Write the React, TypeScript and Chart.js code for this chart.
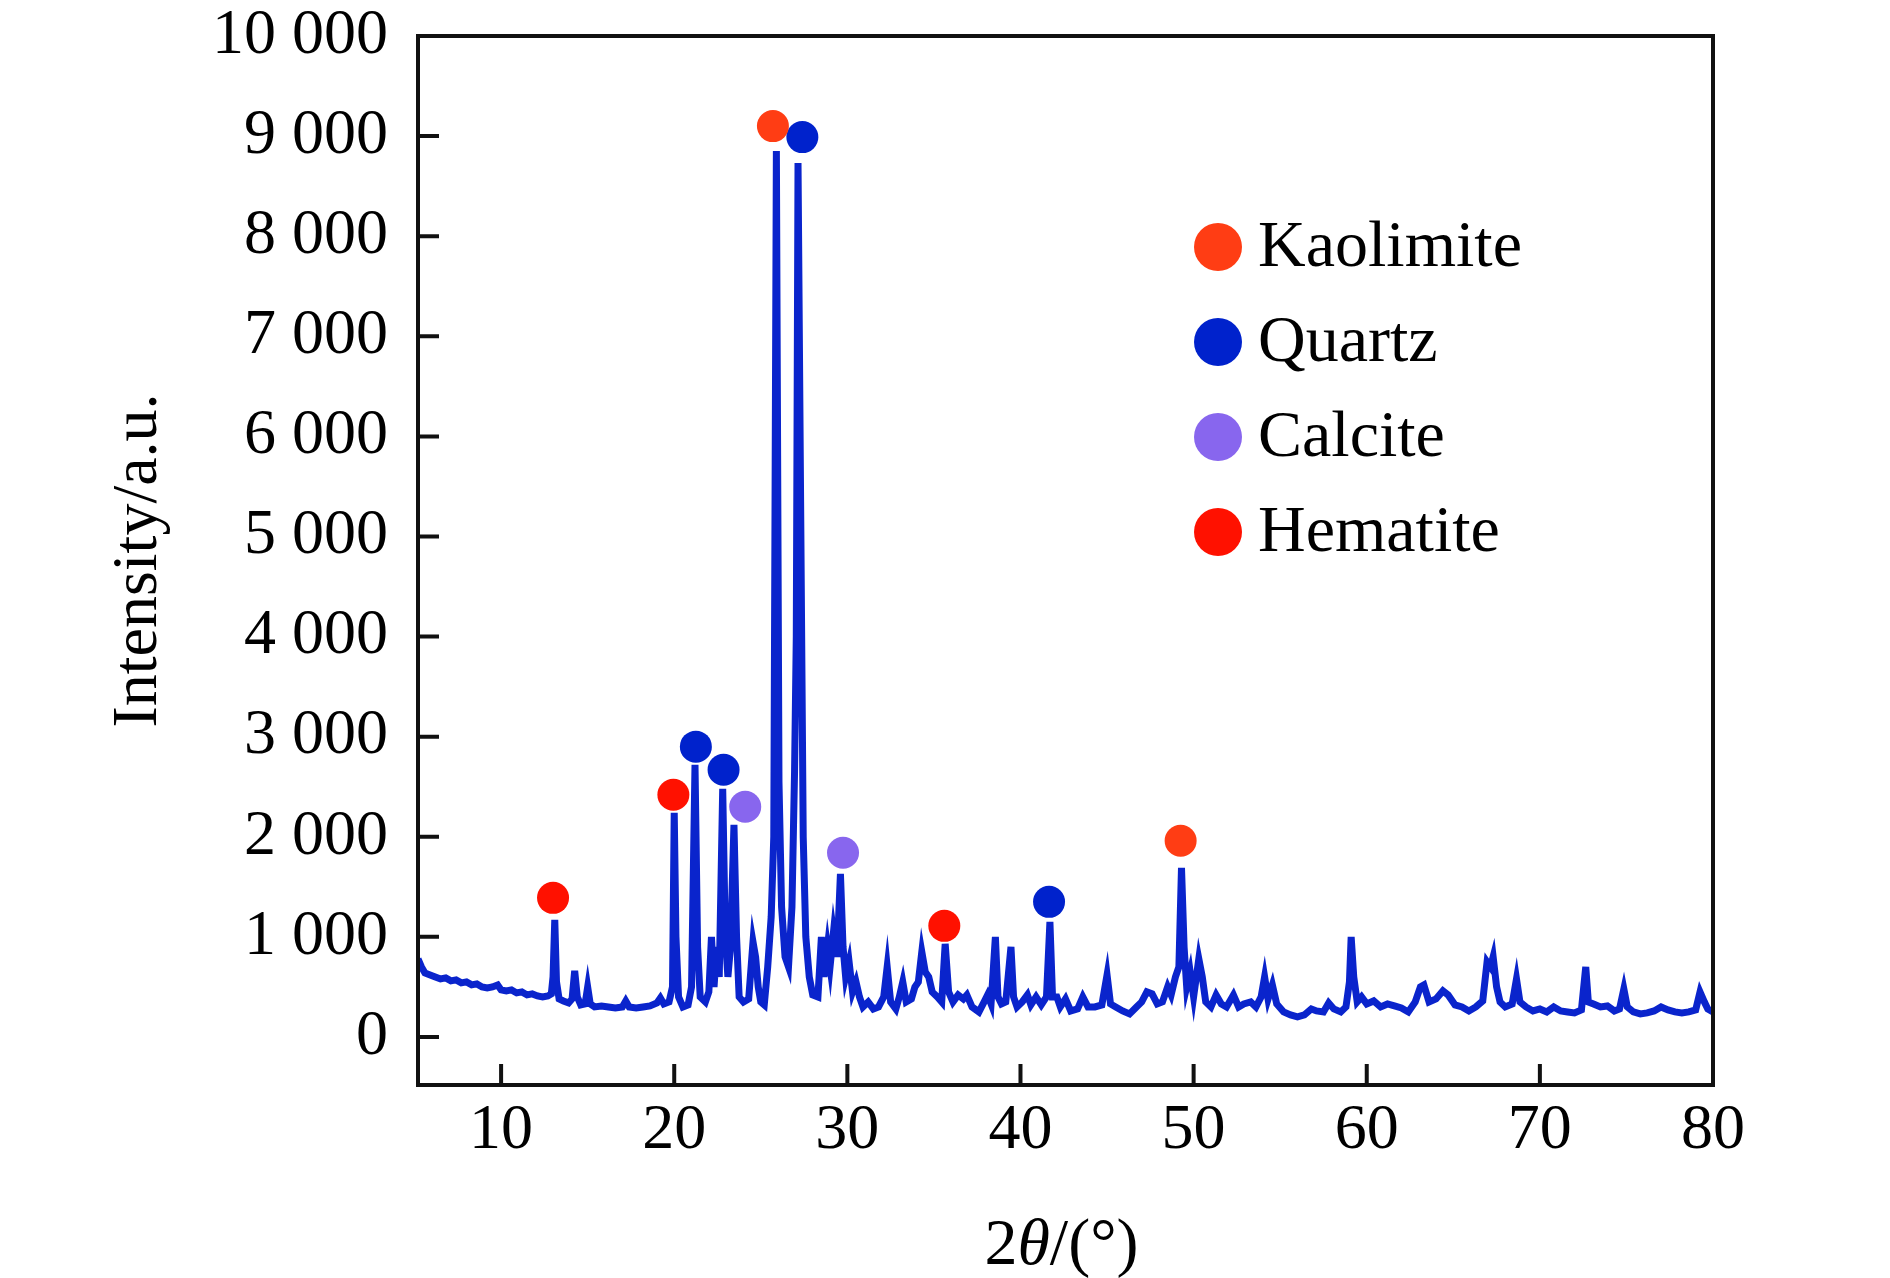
import { useEffect, useRef } from "react";
import { Chart, registerables } from "chart.js";

Chart.register(...registerables);

// diffraction pattern (2θ in degrees, intensity in a.u.)
const twoTheta = [
  5.2, 5.4, 5.6, 5.9, 6.2, 6.5, 6.8, 7.1, 7.4, 7.7, 8.0, 8.3, 8.6, 8.9, 9.2, 9.5, 9.8, 10.0, 10.3, 10.6,
  10.9, 11.2, 11.5, 11.8, 12.1, 12.4, 12.7, 12.9, 13.0, 13.1, 13.2, 13.35, 13.6, 13.9, 14.1, 14.25, 14.4, 14.6, 14.85, 15.0,
  15.15, 15.4, 15.8, 16.2, 16.6, 17.0, 17.2, 17.4, 17.8, 18.2, 18.6, 19.0, 19.2, 19.4, 19.7, 19.9, 20.0, 20.1, 20.25, 20.5,
  20.8, 21.0, 21.2, 21.35, 21.5, 21.8, 22.0, 22.15, 22.3, 22.45, 22.6, 22.8, 22.95, 23.1, 23.25, 23.45, 23.6, 23.75, 24.0, 24.3,
  24.55, 24.7, 24.85, 25.0, 25.2, 25.4, 25.6, 25.75, 25.9, 26.05, 26.2, 26.4, 26.6, 26.8, 26.95, 27.05, 27.15, 27.3, 27.45, 27.6,
  27.8, 28.0, 28.3, 28.5, 28.65, 28.85, 29.0, 29.2, 29.4, 29.6, 29.75, 29.9, 30.1, 30.3, 30.5, 30.7, 30.9, 31.2, 31.5, 31.8,
  32.1, 32.3, 32.5, 32.8, 33.0, 33.2, 33.4, 33.7, 33.9, 34.1, 34.3, 34.5, 34.7, 34.9, 35.2, 35.45, 35.65, 35.85, 36.1, 36.4,
  36.7, 36.9, 37.2, 37.6, 37.9, 38.1, 38.3, 38.55, 38.7, 38.9, 39.15, 39.45, 39.6, 39.8, 40.1, 40.4, 40.6, 40.9, 41.2, 41.5,
  41.7, 41.85, 42.1, 42.3, 42.6, 42.9, 43.3, 43.6, 43.9, 44.3, 44.7, 45.0, 45.2, 45.5, 45.9, 46.3, 46.7, 47.0, 47.3, 47.6,
  47.9, 48.2, 48.5, 48.7, 48.95, 49.15, 49.3, 49.45, 49.6, 49.8, 50.0, 50.3, 50.5, 50.7, 51.0, 51.3, 51.6, 51.9, 52.3, 52.6,
  52.9, 53.3, 53.6, 53.9, 54.1, 54.3, 54.55, 54.8, 55.2, 55.6, 56.0, 56.4, 56.8, 57.1, 57.5, 57.8, 58.1, 58.5, 58.8, 59.0,
  59.1, 59.25, 59.45, 59.7, 60.0, 60.4, 60.8, 61.2, 61.6, 62.0, 62.4, 62.8, 63.1, 63.3, 63.6, 64.0, 64.4, 64.7, 65.1, 65.5,
  65.9, 66.3, 66.7, 66.95, 67.15, 67.3, 67.5, 67.7, 68.0, 68.4, 68.65, 68.85, 69.2, 69.6, 70.0, 70.4, 70.8, 71.2, 71.6, 72.0,
  72.4, 72.65, 72.8, 73.1, 73.5, 73.9, 74.3, 74.6, 74.85, 75.05, 75.4, 75.8, 76.2, 76.6, 77.0, 77.4, 77.8, 78.2, 78.6, 79.0,
  79.25, 79.5, 79.7, 80.0,
];
const intensity = [
  780, 700, 640, 620, 600, 580, 590, 560, 570, 540, 550, 520, 530, 500, 490, 500, 520, 470, 460, 470,
  440, 450, 420, 430, 410, 400, 410, 430, 600, 1170, 550, 380, 360, 340, 380, 660, 400, 320, 330, 500,
  330, 300, 310, 300, 290, 300, 360, 300, 290, 300, 310, 340, 390, 330, 350, 500, 2240, 1000, 400, 300,
  320, 500, 2720, 900, 400, 350, 450, 1000, 500, 900, 600, 2480, 1000, 600, 900, 2120, 1000, 400, 350, 380,
  950, 800, 500, 350, 320, 700, 1200, 2000, 8850, 2550, 1300, 800, 700, 1300, 2650, 4000, 8730, 5350, 2000, 1000,
  600, 420, 400, 1000, 600, 900, 700, 1050, 800, 1630, 900, 600, 750, 450, 550, 400, 300, 350, 280, 300,
  400, 700, 350, 280, 400, 550, 350, 380, 500, 550, 850, 650, 600, 450, 400, 350, 930, 450, 350, 420,
  380, 420, 300, 250, 350, 420, 330, 1000, 400, 330, 350, 900, 400, 300, 350, 420, 320, 400, 320, 400,
  1150, 400, 400, 300, 380, 260, 280, 400, 300, 300, 320, 620, 330, 300, 260, 230, 300, 350, 450, 430,
  330, 350, 500, 420, 600, 700, 1690, 900, 500, 650, 400, 780, 600, 350, 300, 420, 330, 300, 420, 300,
  330, 350, 300, 400, 600, 380, 520, 330, 250, 220, 200, 220, 280, 260, 250, 340, 280, 250, 300, 550,
  1000, 600, 350, 400, 330, 360, 300, 330, 310, 290, 250, 350, 500, 520, 350, 380, 460, 420, 320, 300,
  260, 300, 360, 750, 700, 800, 500, 350, 300, 330, 580, 350, 300, 260, 280, 250, 300, 260, 250, 240,
  270, 700, 350, 330, 300, 310, 260, 280, 480, 300, 250, 230, 240, 260, 300, 270, 250, 240, 250, 270,
  450, 350, 280, 250,
];

// phase markers (position, height of the dot)
const phaseNames = ["Kaolimite", "Quartz", "Calcite", "Hematite"];
const phaseColors = ["#ff3d14", "#0022cc", "#8866ee", "#ff1100"];
const kaoliniteX = [25.7, 49.25];
const kaoliniteY = [9100, 1960];
const quartzX = [27.4, 21.25, 22.85, 41.65];
const quartzY = [8990, 2900, 2670, 1350];
const calciteX = [24.1, 29.75];
const calciteY = [2300, 1840];
const hematiteX = [13.0, 19.95, 35.6];
const hematiteY = [1390, 2420, 1110];

const yTicks = [0, 1000, 2000, 3000, 4000, 5000, 6000, 7000, 8000, 9000, 10000];
const xTicks = [10, 20, 30, 40, 50, 60, 70, 80];

const SERIF = "'Liberation Serif', 'Times New Roman', serif";

function fmt(v: number) {
  if (v < 1000) return String(v);
  return Math.floor(v / 1000) + " " + String(v % 1000).padStart(3, "0");
}

const zip = (xs: number[], ys: number[]) => xs.map((x, i) => ({ x, y: ys[i] }));

const frame = {
  id: "frame",
  afterDraw(chart: any) {
    const { ctx, chartArea: a, scales } = chart;
    ctx.save();
    ctx.strokeStyle = "#111";
    ctx.lineWidth = 4;
    ctx.strokeRect(a.left, a.top, a.right - a.left, a.bottom - a.top);
    ctx.beginPath();
    xTicks.forEach((t) => {
      const px = scales.x.getPixelForValue(t);
      ctx.moveTo(px, a.bottom);
      ctx.lineTo(px, a.bottom - 21);
    });
    yTicks.forEach((t) => {
      const py = scales.y.getPixelForValue(t);
      ctx.moveTo(a.left, py);
      ctx.lineTo(a.left + 21, py);
    });
    ctx.stroke();

    // legend
    ctx.font = "66px " + SERIF;
    ctx.textBaseline = "middle";
    ctx.textAlign = "left";
    phaseNames.forEach((name, i) => {
      const cy = a.top + 211 + i * 95;
      ctx.fillStyle = phaseColors[i];
      ctx.beginPath();
      ctx.arc(a.left + 800, cy, 24, 0, Math.PI * 2);
      ctx.fill();
      ctx.fillStyle = "#000";
      ctx.fillText(name, a.left + 840, cy + 2);
    });

    // x title with italic theta
    const parts = [
      { t: "2", f: "66px " + SERIF },
      { t: "θ", f: "italic 66px " + SERIF },
      { t: "/(°)", f: "66px " + SERIF },
    ];
    let w = 0;
    parts.forEach((p) => {
      ctx.font = p.f;
      w += ctx.measureText(p.t).width;
    });
    let x = (a.left + a.right) / 2 - 4 - w / 2;
    ctx.textBaseline = "alphabetic";
    parts.forEach((p) => {
      ctx.font = p.f;
      ctx.fillText(p.t, x, 1264);
      x += ctx.measureText(p.t).width;
    });
    ctx.restore();
  },
};

export default function App() {
  const canvasRef = useRef<HTMLCanvasElement>(null);
  const chartRef = useRef<Chart | null>(null);

  useEffect(() => {
    if (!canvasRef.current) return;
    if (chartRef.current) chartRef.current.destroy();

    const markerSets = [
      zip(kaoliniteX, kaoliniteY),
      zip(quartzX, quartzY),
      zip(calciteX, calciteY),
      zip(hematiteX, hematiteY),
    ];

    chartRef.current = new Chart(canvasRef.current, {
      type: "scatter",
      data: {
        datasets: [
          {
            label: "XRD",
            data: zip(twoTheta, intensity),
            showLine: true,
            borderColor: "#0a24cc",
            borderWidth: 7,
            pointRadius: 0,
            tension: 0,
            order: 1,
          },
          ...markerSets.map((d, i) => ({
            label: phaseNames[i],
            data: d,
            pointRadius: 16,
            pointBackgroundColor: phaseColors[i],
            pointBorderWidth: 0,
            borderWidth: 0,
            order: 0,
          })),
        ],
      },
      options: {
        responsive: false,
        animation: false,
        layout: { padding: { left: 0, top: 36, right: 177, bottom: 0 } },
        plugins: { legend: { display: false }, tooltip: { enabled: false } },
        scales: {
          x: {
            type: "linear",
            min: 5.2,
            max: 80,
            grid: { display: false, drawTicks: false },
            border: { display: false },
            afterBuildTicks: (s: any) => {
              s.ticks = xTicks.map((v) => ({ value: v }));
            },
            afterFit: (s: any) => {
              s.height = 193;
              s.paddingLeft = 0;
              s.paddingRight = 0;
            },
            ticks: {
              padding: 14,
              color: "#000",
              font: { family: SERIF, size: 64, lineHeight: 1 },
            },
          },
          y: {
            min: -480,
            max: 10000,
            grid: { display: false, drawTicks: false },
            border: { display: false },
            afterBuildTicks: (s: any) => {
              s.ticks = yTicks.map((v) => ({ value: v }));
            },
            afterFit: (s: any) => {
              s.width = 418;
              s.paddingTop = 0;
              s.paddingBottom = 0;
            },
            ticks: {
              padding: 30,
              color: "#000",
              font: { family: SERIF, size: 64, lineHeight: 1 },
              callback: (v: any) => fmt(Number(v)),
            },
            title: {
              display: true,
              text: "Intensity/a.u.",
              color: "#000",
              font: { family: SERIF, size: 64, lineHeight: 1 },
              padding: { top: 107, bottom: 0 },
            },
          },
        },
      },
      plugins: [frame],
    } as any);

    return () => {
      if (chartRef.current) {
        chartRef.current.destroy();
        chartRef.current = null;
      }
    };
  }, []);

  return (
    <div style={{ position: "absolute", left: 0, top: 0, width: 1890, height: 1278, background: "#fff" }}>
      <canvas ref={canvasRef} width={1890} height={1278} style={{ width: 1890, height: 1278 }} />
    </div>
  );
}
